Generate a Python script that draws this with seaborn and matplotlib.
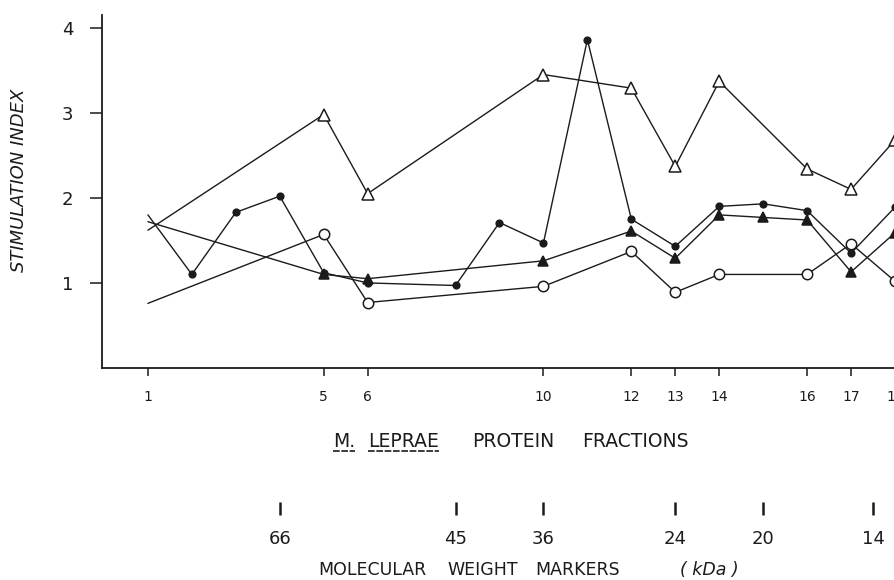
import matplotlib

matplotlib.use("Agg")

import matplotlib.pyplot as plt
import pandas as pd
import seaborn as sns
from matplotlib.lines import Line2D

# fractions shown on the x axis
fraction_ticks = [1, 5, 6, 10, 12, 13, 14, 16, 17, 18]

# open triangles
open_tri_x = [1, 5, 6, 10, 12, 13, 14, 16, 17, 18]
open_tri_y = [1.62, 2.98, 2.05, 3.45, 3.29, 2.37, 3.37, 2.34, 2.10, 2.68]

# open circles
open_circ_x = [1, 5, 6, 10, 12, 13, 14, 16, 17, 18]
open_circ_y = [0.76, 1.57, 0.77, 0.96, 1.37, 0.89, 1.10, 1.10, 1.46, 1.02]

# filled triangles
filled_tri_x = [1, 5, 6, 10, 12, 13, 14, 15, 16, 17, 18]
filled_tri_y = [1.72, 1.10, 1.05, 1.26, 1.61, 1.29, 1.80, 1.77, 1.74, 1.13, 1.59]

# filled circles
filled_circ_x = [1, 2, 3, 4, 5, 6, 8, 9, 10, 11, 12, 13, 14, 15, 16, 17, 18]
filled_circ_y = [1.80, 1.10, 1.83, 2.02, 1.12, 1.00, 0.97, 1.71, 1.47, 3.86,
                 1.75, 1.43, 1.90, 1.93, 1.85, 1.35, 1.89]

# molecular weight markers, placed along the fraction axis
mw_pos = [4, 8, 10, 13, 15, 17.5]
mw_labels = ["66", "45", "36", "24", "20", "14"]

INK = "#1b1b1b"
W, H = 895, 580

sns.set_theme(style="ticks")
plt.rcParams["font.family"] = ["DejaVu Sans"]

fig = plt.figure(figsize=(W / 100, H / 100), dpi=100)
ax = fig.add_axes([102 / W, 1 - 368 / H, 1 - 102 / W, (368 - 15) / H])

series = [
    (open_tri_x, open_tri_y, dict(marker="^", ms=8.5, mfc="white")),
    (open_circ_x, open_circ_y, dict(marker="o", ms=7.5, mfc="white")),
    (filled_tri_x, filled_tri_y, dict(marker="^", ms=6.5, mfc=INK)),
    (filled_circ_x, filled_circ_y, dict(marker="o", ms=4.8, mfc=INK)),
]
for xs, ys, style in series:
    df = pd.DataFrame({"fraction": xs, "si": ys})
    sns.lineplot(
        data=df, x="fraction", y="si", ax=ax, color=INK, lw=1.0,
        mec=INK, mew=1.1, markevery=list(range(1, len(xs))), **style,
    )

ax.set_xlim(-0.045, 17.98)
ax.set_ylim(0, 4.15)
ax.set_xticks(fraction_ticks)
ax.set_yticks([1, 2, 3, 4])
ax.set_xlabel("")
ax.set_ylabel("")
sns.despine(ax=ax)
for side in ("left", "bottom"):
    ax.spines[side].set_linewidth(1.3)
    ax.spines[side].set_color(INK)
ax.tick_params(axis="x", length=6, width=1.1, labelsize=10, pad=10, colors=INK)
ax.tick_params(axis="y", length=8.5, width=1.1, labelsize=13, pad=12, colors=INK)

# molecular weight scale below the main axis
ax_mw = fig.add_axes([102 / W, 1 - 502 / H, 1 - 102 / W, 0.001])
ax_mw.set_xlim(ax.get_xlim())
ax_mw.set_xticks(mw_pos)
ax_mw.set_xticklabels(mw_labels)
ax_mw.set_yticks([])
ax_mw.patch.set_visible(False)
for sp in ax_mw.spines.values():
    sp.set_visible(False)
ax_mw.tick_params(axis="x", length=9.5, width=1.8, labelsize=13, pad=11, colors=INK)


def fx(px):
    return px / W


def fy(py):
    return 1 - py / H


fig.text(fx(19), fy(180), "STIMULATION INDEX", rotation=90, ha="center",
         va="center", fontsize=13, fontstyle="italic", color=INK)

words = [("M.", 333), ("LEPRAE", 368), ("PROTEIN", 472), ("FRACTIONS", 582)]
word_txt = []
for w, px in words:
    word_txt.append(fig.text(fx(px), fy(447), w, ha="left", va="baseline",
                             fontsize=13.5, color=INK))

mw_words = [("MOLECULAR", 318), ("WEIGHT", 447), ("MARKERS", 535)]
for w, px in mw_words:
    fig.text(fx(px), fy(575), w, ha="left", va="baseline", fontsize=12.5, color=INK)
fig.text(fx(680), fy(575), "( kDa )", ha="left", va="baseline", fontsize=12.5,
         fontstyle="italic", color=INK)

# underline the organism name
fig.canvas.draw()
renderer = fig.canvas.get_renderer()
for t in word_txt[:2]:
    bb = t.get_window_extent(renderer).transformed(fig.transFigure.inverted())
    fig.add_artist(Line2D([bb.x0, bb.x1], [fy(451), fy(451)], transform=fig.transFigure,
                          color=INK, lw=1.2, ls=(0, (4, 1))))

fig.savefig("out.png", dpi=100)
